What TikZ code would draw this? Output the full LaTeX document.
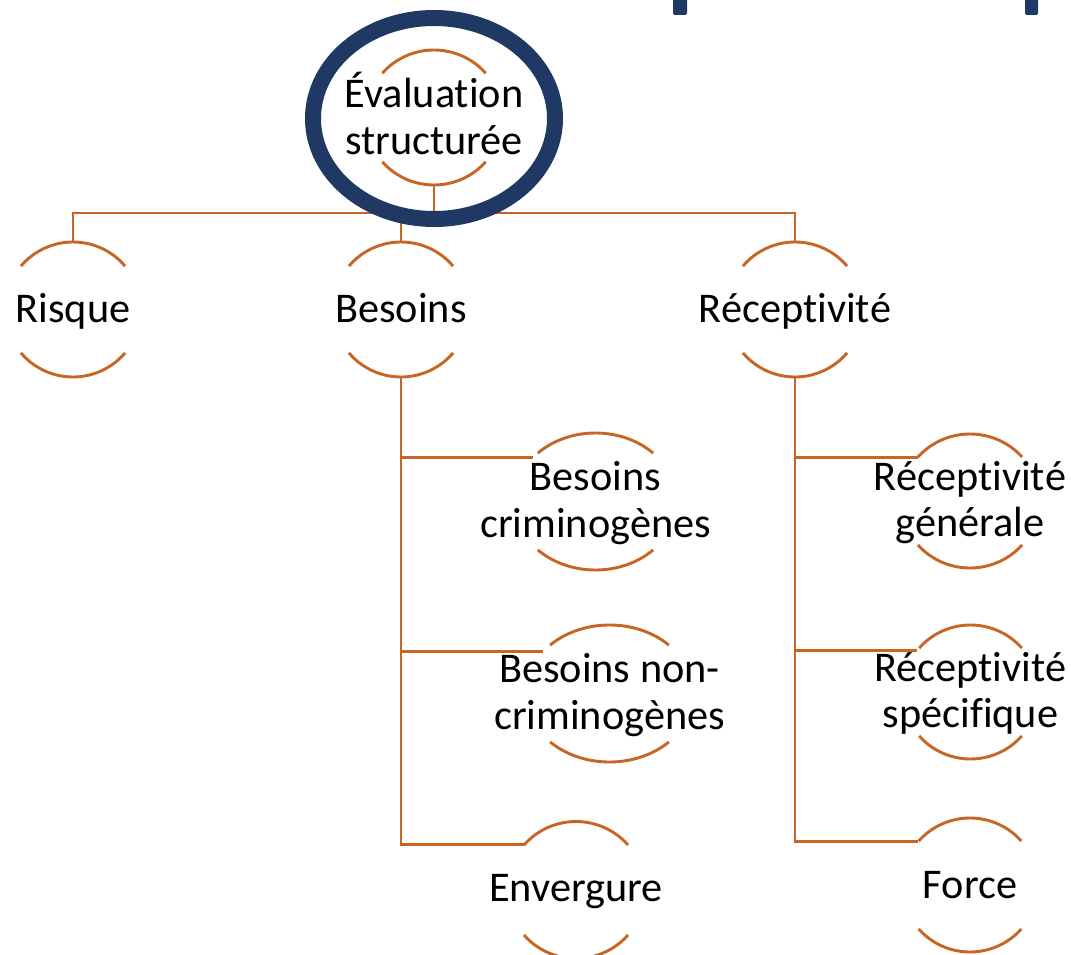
\documentclass[tikz,border=0pt]{standalone}
\usepackage{fontspec}
\setmainfont{Carlito}[RawFeature={-liga;-clig;-calt;-dlig}]
\usetikzlibrary{shapes.geometric,calc}
\definecolor{navy}{RGB}{31,56,100}
\definecolor{rust}{RGB}{199,101,37}
\newcommand\nolig{\kern0pt\relax}
\newcommand\ringarcs[4]{%
  \draw[arcline] ($(#1.center)+({#2*cos(#4)},{-#3*sin(#4)})$) arc[start angle=#4,end angle={180-#4},x radius=#2pt,y radius=#3pt];
  \draw[arcline] ($(#1.center)+({-#2*cos(#4)},{#3*sin(#4)})$) arc[start angle={180+#4},end angle={360-#4},x radius=#2pt,y radius=#3pt];}
\begin{document}
\begin{tikzpicture}[x=1pt,y=-1pt,
  blob/.style={ellipse,inner sep=0pt,outer sep=0pt,draw=none},
  arcline/.style={draw=rust,line width=2.9pt},
  link/.style={draw=rust,line width=2.9pt},
  lbl/.style={anchor=base,inner sep=0pt,font=\fontsize{42.3}{47}\selectfont,text=black},
  ring/.style={draw=navy,line width=16pt},
  stub/.style={fill=navy,rounded corners=2pt}]
\useasboundingbox (0,0) rectangle (1071,955);
\fill[white] (0,0) rectangle (1071,955);

% cut-off title fragments
\fill[stub] (673,-6) rectangle (687,15);
\fill[stub] (1025,-6) rectangle (1038,15);

% shape nodes
\node[blob,minimum width=137pt,minimum height=135pt] (eval) at (434,117.5) {};
\node[blob,minimum width=136pt,minimum height=135pt] (risque) at (73,309.5) {};
\node[blob,minimum width=136pt,minimum height=135pt] (besoins) at (401,309.5) {};
\node[blob,minimum width=136pt,minimum height=135pt] (recep) at (795,309.5) {};
\node[blob,minimum width=163pt,minimum height=137pt] (bcrim) at (595.5,501.5) {};
\node[blob,minimum width=168pt,minimum height=137pt] (bnon) at (609.5,693.5) {};
\node[blob,minimum width=138pt,minimum height=137pt] (env) at (576,890) {};
\node[blob,minimum width=138pt,minimum height=134pt] (rgen) at (970,501) {};
\node[blob,minimum width=136pt,minimum height=134pt] (rspec) at (970.5,692) {};
\node[blob,minimum width=136pt,minimum height=134pt] (force) at (970,885) {};

% arcs
\ringarcs{eval}{68.5}{67.5}{41}
\ringarcs{risque}{68}{67.5}{40}
\ringarcs{besoins}{68}{67.5}{40}
\ringarcs{recep}{68}{67.5}{40}
\ringarcs{bcrim}{81.5}{68.5}{45}
\ringarcs{bnon}{84}{68.5}{45}
\ringarcs{env}{69}{68.5}{41}
\ringarcs{rgen}{69}{67}{41}
\ringarcs{rspec}{68}{67}{41}
\ringarcs{force}{68}{67}{41}

% connectors
\coordinate (bar) at (434,213);
\draw[link] (eval.south) -- (bar);
\draw[link] (bar) -| (risque.north);
\draw[link] (bar) -| (besoins.north);
\draw[link] (bar) -| (recep.north);
\draw[link] (besoins.south) |- (bcrim.145.4);
\draw[link] (besoins.south) |- (bnon.148.1);
\draw[link] (besoins.south) |- (env.139.1);
\draw[link] (recep.south) |- (rgen.140.9);
\draw[link] (recep.south) |- (rspec.142.7);
\draw[link] (recep.south) |- (force.140.9);

% labels
\node[lbl] (eval-a) at ($(eval.center)+(0,-10)$) {Évaluat\nolig ion};
\node[lbl] (eval-b) at ($(eval.center)+(0,37)$) {structurée};
\node[lbl] (risque-t) at ($(risque.center)+(0,12.5)$) {Risque};
\node[lbl] (besoins-t) at ($(besoins.center)+(0,12.5)$) {Besoins};
\node[lbl] (recep-t) at ($(recep.center)+(0,12.5)$) {Récept\nolig ivit\nolig é};
\node[lbl] (bcrim-a) at ($(bcrim.center)+(0,-11)$) {Besoins};
\node[lbl] (bcrim-b) at ($(bcrim.center)+(0,35.5)$) {criminogènes};
\node[lbl] (bnon-a) at ($(bnon.center)+(0,-11)$) {Besoins non-};
\node[lbl] (bnon-b) at ($(bnon.center)+(0,36)$) {criminogènes};
\node[lbl] (env-t) at ($(env.center)+(0,11)$) {Envergure};
\node[lbl] (rgen-a) at ($(rgen.center)+(0,-11)$) {Récept\nolig ivit\nolig é};
\node[lbl] (rgen-b) at ($(rgen.center)+(0,35.5)$) {générale};
\node[lbl] (rspec-a) at ($(rspec.center)+(0,-11)$) {Récept\nolig ivit\nolig é};
\node[lbl] (rspec-b) at ($(rspec.center)+(0,35.5)$) {spécif\nolig ique};
\node[lbl] (force-t) at ($(force.center)+(0,13)$) {Force};

% outer highlight ring
\draw[ring] (434,118.5) ellipse[x radius=121pt,y radius=100.5pt];
\end{tikzpicture}
\end{document}
